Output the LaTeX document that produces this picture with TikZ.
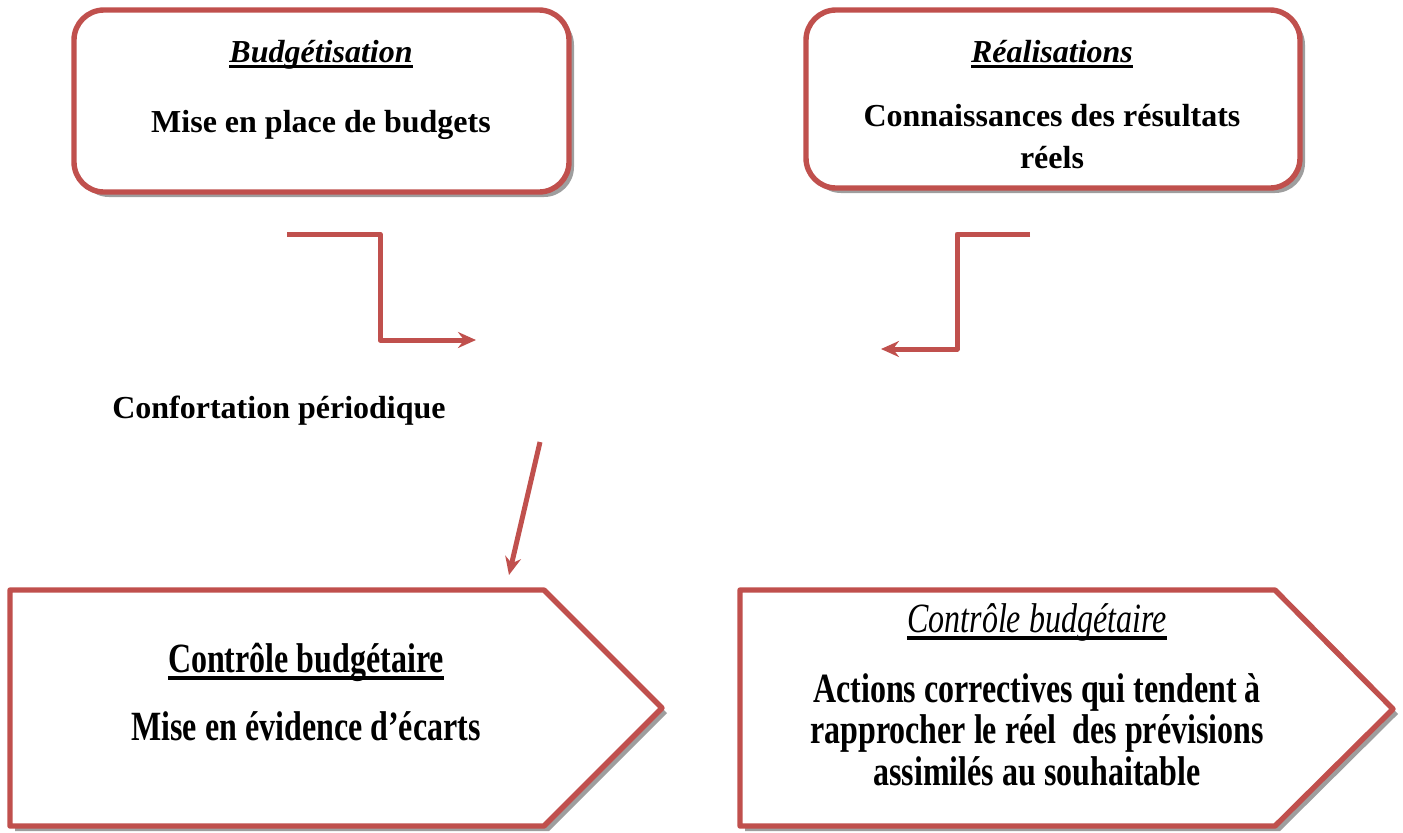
\documentclass[tikz,border=0pt]{standalone}
\usepackage{fontspec}
\setmainfont{Liberation Serif}
\usepackage{graphicx}
\usetikzlibrary{arrows.meta}
\definecolor{accent}{HTML}{C0504D}
% underline with a rule set just under the baseline
\newcommand\undl[1]{\setbox0\hbox{#1}\rlap{\rule[-3pt]{\wd0}{1.5pt}}\box0}
% tall, narrow lettering used in the lower boxes
\newcommand\tallt[1]{\scalebox{1}[1.3]{#1}}

\begin{document}
\begin{tikzpicture}[x=0.5pt,y=-0.5pt,
  frame/.style={draw=accent, line width=2.7pt, fill=white, line join=round},
  shadowfill/.style={fill=black!38},
  link/.style={draw=accent, line width=2.5pt, line join=round,
    -{Stealth[length=9pt,width=8pt,inset=3pt]}},
  txt/.style={font=\bfseries\fontsize{16}{20.75}\selectfont, align=center, inner sep=0pt, anchor=base}]

\useasboundingbox (0,0) rectangle (1403,832);

% ---- upper left: budgeting
\path[shadowfill, rounded corners=15pt] (79,15) rectangle (574,197);
\path[frame, rounded corners=15pt] (74,10) rectangle (569,192);
\node[txt] (budTitle) at (321,62) {\undl{\textit{Budgétisation}}};
\node[txt] (budBody) at (321,132) {Mise en place de budgets};

% ---- upper right: actual results (base anchor = last line)
\path[shadowfill, rounded corners=15pt] (811,15) rectangle (1305,193);
\path[frame, rounded corners=15pt] (806,10) rectangle (1300,188);
\node[txt] (realTitle) at (1052,62) {\undl{\textit{Réalisations}}};
\node[txt] (realBody) at (1052,168) {Connaissances des résultats\\réels};

% ---- middle label
\node[txt] (compare) at (279,418) {Confortation périodique};

% ---- lower left: variance detection
\path[shadowfill] (15,595) -- (549,595) -- (667,713) -- (549,831) -- (15,831) -- cycle;
\path[frame] (10,590) -- (544,590) -- (662,708) -- (544,826) -- (10,826) -- cycle;
\node[txt] (ctrlTitle) at (306,672) {\tallt{\undl{Contrôle budgétaire}}};
\node[txt] (ctrlBody) at (306,740) {\tallt{Mise en évidence d’écarts}};

% ---- lower right: corrective actions (base anchor = last line)
\path[shadowfill] (745,595) -- (1280,595) -- (1398,714) -- (1280,831) -- (745,831) -- cycle;
\path[frame] (740,590) -- (1275,590) -- (1393,709) -- (1275,826) -- (740,826) -- cycle;
\node[txt] (actTitle) at (1037,632) {\tallt{\undl{\mdseries\itshape Contrôle budgétaire}}};
\node[txt] (actBody) at (1037,785) {\tallt{Actions correctives qui tendent à}\\
  \tallt{rapprocher le réel \ des prévisions}\\
  \tallt{assimilés au souhaitable}};

% ---- connectors
\coordinate (budOut) at (287,234);
\coordinate (budIn) at (476,340);
\coordinate (realOut) at (1030,234);
\coordinate (realIn) at (881,349);
\coordinate (cmpOut) at (540,442);
\coordinate (cmpIn) at (509,575);
\draw[link] (budOut) -| (380,340) -- (budIn);
\draw[link] (realOut) -| (957,349) -- (realIn);
\draw[link] (cmpOut) -- (cmpIn);
\end{tikzpicture}
\end{document}
